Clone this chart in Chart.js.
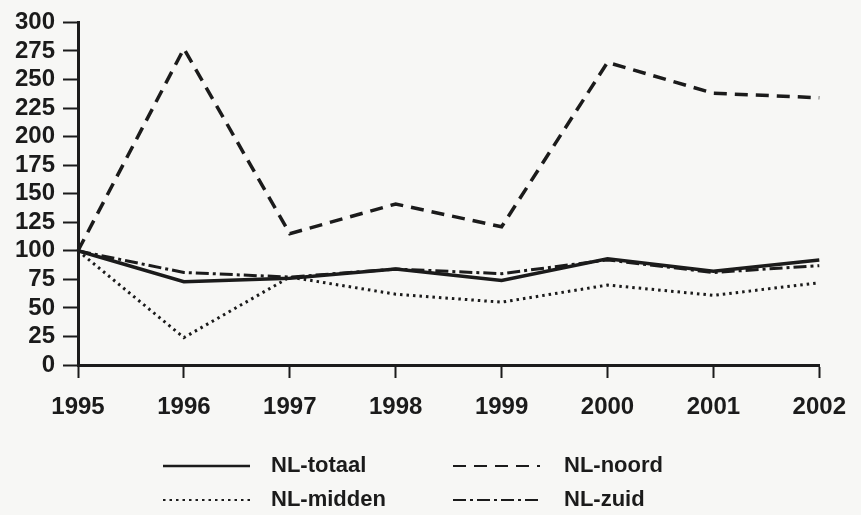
<!DOCTYPE html>
<html>
<head>
<meta charset="utf-8">
<script src="https://cdn.jsdelivr.net/npm/chart.js@4"></script>
<style>
  html, body { margin: 0; padding: 0; background: #f7f7f5; }
  #wrap { width: 861px; height: 515px; position: relative; }
</style>
</head>
<body>
<div id="wrap"><canvas id="chart" width="861" height="515"></canvas></div>
<script>
// Data
const years = ['1995', '1996', '1997', '1998', '1999', '2000', '2001', '2002'];
const totaal = [100, 73, 76, 84, 74, 93, 82, 92];
const noord = [100, 277, 115, 141, 121, 265, 238, 234];
const midden = [100, 24, 77, 62, 55, 70, 61, 72];
const zuid = [100, 81, 77, 84, 80, 92, 81, 87];

const ink = '#1b1b1b';

// Legend drawn below the axis in two columns
const legendPlugin = {
  id: 'bottomLegend',
  afterDraw(chart) {
    const ctx = chart.ctx;
    const items = [
      { ds: 0, x1: 163, x2: 250, tx: 271, y: 466 },
      { ds: 1, x1: 453, x2: 540, tx: 564, y: 466 },
      { ds: 2, x1: 163, x2: 250, tx: 271, y: 500 },
      { ds: 3, x1: 453, x2: 540, tx: 564, y: 500 }
    ];
    ctx.save();
    items.forEach(it => {
      const d = chart.data.datasets[it.ds];
      ctx.strokeStyle = ink;
      ctx.lineWidth = it.ds === 0 ? 2.5 : 2;
      ctx.setLineDash(d.borderDash || []);
      ctx.beginPath();
      ctx.moveTo(it.x1, it.y);
      ctx.lineTo(it.x2, it.y);
      ctx.stroke();
      ctx.setLineDash([]);
      ctx.fillStyle = ink;
      ctx.font = 'bold 22px "Liberation Sans", Arial, sans-serif';
      ctx.textBaseline = 'middle';
      ctx.textAlign = 'left';
      ctx.fillText(d.label, it.tx, it.y);
    });
    ctx.restore();
  }
};

new Chart(document.getElementById('chart'), {
  type: 'line',
  data: {
    labels: years,
    datasets: [
      { label: 'NL-totaal', data: totaal, borderColor: ink, borderWidth: 3.5, borderDash: [] },
      { label: 'NL-noord', data: noord, borderColor: ink, borderWidth: 3.5, borderDash: [13, 8] },
      { label: 'NL-midden', data: midden, borderColor: ink, borderWidth: 3, borderDash: [2.5, 4] },
      { label: 'NL-zuid', data: zuid, borderColor: ink, borderWidth: 3, borderDash: [13, 4, 3, 4] }
    ]
  },
  options: {
    responsive: false,
    animation: false,
    layout: { padding: { left: 0, right: 41, top: 15, bottom: 90 } },
    elements: {
      point: { radius: 0 },
      line: { tension: 0 }
    },
    plugins: {
      legend: { display: false },
      tooltip: { enabled: false }
    },
    scales: {
      x: {
        offset: false,
        grid: { drawOnChartArea: false, drawTicks: true, tickLength: 13, tickWidth: 2, tickColor: ink },
        border: { display: true, color: ink, width: 3 },
        ticks: {
          color: ink,
          padding: 15,
          maxRotation: 0,
          autoSkip: false,
          font: { family: '"Liberation Sans", Arial, sans-serif', size: 24, weight: 'bold' }
        },
        afterFit(scale) { scale.height = 60; }
      },
      y: {
        min: 0,
        max: 300,
        grid: { drawOnChartArea: false, drawTicks: true, tickLength: 15, tickWidth: 2, tickColor: ink },
        border: { display: true, color: ink, width: 3 },
        ticks: {
          stepSize: 25,
          autoSkip: false,
          color: ink,
          padding: 8,
          font: { family: '"Liberation Sans", Arial, sans-serif', size: 24, weight: 'bold' }
        },
        afterFit(scale) { scale.width = 78; }
      }
    }
  },
  plugins: [legendPlugin]
});
</script>
</body>
</html>
